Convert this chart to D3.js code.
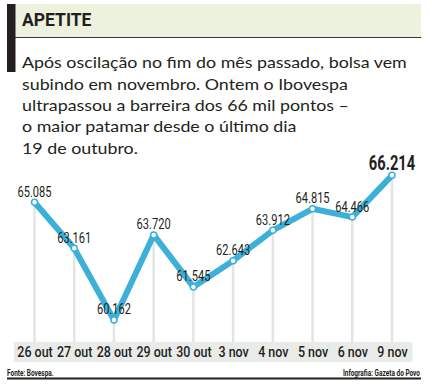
<!DOCTYPE html>
<html lang="pt">
<head>
    <meta charset="UTF-8">
    <title>Apetite</title>
    <script src="https://cdn.jsdelivr.net/npm/d3@7/dist/d3.min.js"></script>
    <style>
        body{ margin: 0; background: #fff; }
        #mainsvg{ display: block; }
    </style>
</head>
<body>
    <svg width="432" height="389" id="mainsvg"></svg>
    <script>
        const dates = ["26 out","27 out","28 out","29 out","30 out","3 nov","4 nov","5 nov","6 nov","9 nov"]
        const values = [65.085, 63.161, 60.162, 63.720, 61.545, 62.643, 63.912, 64.815, 64.466, 66.214]
        const labels = ["65.085","63.161","60.162","63.720","61.545","62.643","63.912","64.815","64.466","66.214"]
        const textLines = [
            "Após oscilação no fim do mês passado, bolsa vem",
            "subindo em novembro. Ontem o Ibovespa",
            "ultrapassou a barreira dos 66 mil pontos –",
            "o maior patamar desde o último dia",
            "19 de outubro."
        ]

        const svg = d3.select('#mainsvg');
        const blue = "#3cb0d9";
        const ink = "#231f20";
        const font = "Roboto, sans-serif";

        // header
        svg.append('rect').attr('x', 15).attr('y', 4).attr('width', 406).attr('height', 33).attr('fill', '#edf2df')
        svg.append('line').attr('x1', 15).attr('x2', 421).attr('y1', 37.5).attr('y2', 37.5).attr('stroke', '#333').attr('stroke-width', 1)
        svg.append('rect').attr('x', 7).attr('y', 4).attr('width', 8.5).attr('height', 68).attr('fill', ink)
        svg.append('text').attr('x', 22).attr('y', 26).text('APETITE')
            .attr('font-family', font).attr('font-weight', 700).attr('font-size', 17.5).attr('fill', ink)

        // paragraph, squeezed so the first line spans like the print
        const para = svg.append('g').selectAll('text').data(textLines).join('text')
            .attr('font-family', 'Lato, sans-serif').attr('font-size', 15.5).attr('fill', ink)
            .text(d => d)
        const w0 = para.node().getComputedTextLength();
        const ps = 385 / w0;
        para.attr('transform', (d, i) => `translate(22, ${68.3 + i * 21.3}) scale(${ps}, 1)`)

        // chart
        const x = d3.scalePoint().domain(dates).range([34.5, 392]);
        const y = d3.scaleLinear().domain([59.5, 66.5]).range([335.8, 168.5]);
        const bandTop = 342, bandBottom = 362;

        svg.append('rect').attr('x', x(dates[0]) - 20.5).attr('y', bandTop)
            .attr('width', x(dates[dates.length - 1]) - x(dates[0]) + 41).attr('height', bandBottom - bandTop)
            .attr('fill', '#e9ebe9')

        const g = svg.append('g');
        g.selectAll('line.stem').data(values).join('line').attr('class', 'stem')
            .attr('x1', (d, i) => x(dates[i])).attr('x2', (d, i) => x(dates[i]))
            .attr('y1', d => y(d)).attr('y2', bandTop)
            .attr('stroke', '#e4e4e4').attr('stroke-width', 2.5)

        const line = d3.line().x((d, i) => x(dates[i])).y(d => y(d));
        g.append('path').datum(values).attr('d', line)
            .attr('fill', 'none').attr('stroke', blue).attr('stroke-width', 6).attr('stroke-linejoin', 'round')

        g.selectAll('circle').data(values).join('circle')
            .attr('cx', (d, i) => x(dates[i])).attr('cy', d => y(d)).attr('r', 3)
            .attr('fill', '#fff').attr('stroke', blue).attr('stroke-width', 1.5)

        const last = values.length - 1;
        g.selectAll('text.val').data(values).join('text').attr('class', 'val')
            .attr('transform', (d, i) => `translate(${x(dates[i])}, ${y(d) - 5.5}) scale(${i === last ? 0.7 : 0.74}, 1)`)
            .attr('text-anchor', 'middle').attr('font-family', font)
            .attr('font-size', (d, i) => i === last ? 21 : 15)
            .attr('font-weight', (d, i) => i === last ? 700 : 400)
            .attr('fill', ink)
            .text((d, i) => labels[i])

        const axis = d3.axisBottom(x).tickSize(0).tickPadding(0);
        const ax = svg.append('g').attr('transform', `translate(0, ${bandTop})`).call(axis);
        ax.select('.domain').remove();
        ax.selectAll('text').attr('dy', 0).attr('y', 0)
            .attr('transform', 'translate(0, 15) scale(0.86, 1)')
            .attr('font-family', font).attr('font-size', 14.5).attr('font-weight', 500).attr('fill', ink)

        // footer
        svg.append('text').attr('transform', 'translate(7, 375.5) scale(0.72, 1)').text('Fonte: Bovespa.')
            .attr('font-family', font).attr('font-weight', 700).attr('font-size', 9).attr('fill', ink)
        svg.append('text').attr('transform', 'translate(420, 375.5) scale(0.72, 1)').attr('text-anchor', 'end').text('Infografia: Gazeta do Povo')
            .attr('font-family', font).attr('font-weight', 700).attr('font-size', 9).attr('fill', ink)
        svg.append('line').attr('x1', 7).attr('x2', 421).attr('y1', 378.5).attr('y2', 378.5).attr('stroke', ink).attr('stroke-width', 2)
    </script>
</body>
</html>
